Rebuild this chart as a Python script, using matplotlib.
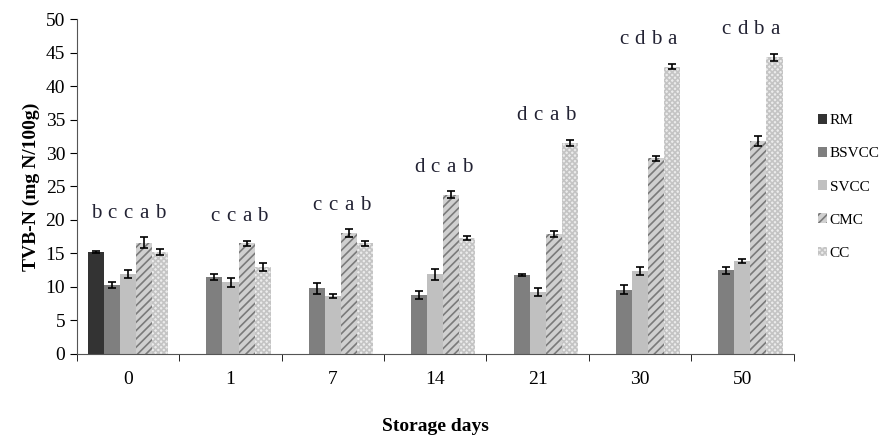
import numpy as np
from matplotlib import pyplot as plt

days = ['0', '1', '7', '14', '21', '30', '50']
series = ['RM', 'BSVCC', 'SVCC', 'CMC', 'CC']
rm     = [15.2, np.nan, np.nan, np.nan, np.nan, np.nan, np.nan]
bsvcc  = [10.3, 11.5, 9.8, 8.8, 11.8, 9.6, 12.5]
svcc   = [12.0, 10.7, 8.6, 11.9, 9.2, 12.4, 13.9]
cmc    = [16.6, 16.5, 18.0, 23.8, 17.9, 29.2, 31.8]
cc     = [15.2, 13.0, 16.5, 17.3, 31.5, 42.9, 44.3]
rm_err    = [0.2, 0, 0, 0, 0, 0, 0]
bsvcc_err = [0.4, 0.5, 0.8, 0.6, 0.2, 0.7, 0.5]
svcc_err  = [0.6, 0.7, 0.3, 0.8, 0.6, 0.6, 0.3]
cmc_err   = [0.8, 0.4, 0.6, 0.5, 0.4, 0.4, 0.8]
cc_err    = [0.4, 0.6, 0.4, 0.3, 0.5, 0.4, 0.5]
letters = [['b', 'c', 'c', 'a', 'b'],
           ['', 'c', 'c', 'a', 'b'],
           ['', 'c', 'c', 'a', 'b'],
           ['', 'd', 'c', 'a', 'b'],
           ['', 'd', 'c', 'a', 'b'],
           ['', 'c', 'd', 'b', 'a'],
           ['', 'c', 'd', 'b', 'a']]

plt.rcParams['font.family'] = ['Liberation Serif', 'DejaVu Serif']
plt.rcParams['hatch.linewidth'] = 1.2

fig = plt.figure(figsize=(8.89, 4.44), dpi=100)
ax = fig.add_axes([0.0866, 0.203, 0.806, 0.754])

values = [rm, bsvcc, svcc, cmc, cc]
errs = [rm_err, bsvcc_err, svcc_err, cmc_err, cc_err]
styles = [dict(color='#333333', hatch=None, ec='white'),
          dict(color='#7f7f7f', hatch=None, ec='white'),
          dict(color='#c0c0c0', hatch=None, ec='white'),
          dict(color='#d0d0d0', hatch='////', ec='#7a7a7a'),
          dict(color='#ececec', hatch='xxxxxx', ec='#c4c4c4')]
w = 0.157
x = np.arange(len(days))
for i, (vals, er, st) in enumerate(zip(values, errs, styles)):
    pos = x + (i - 2) * w
    ax.bar(pos, vals, w, color=st['color'], hatch=st['hatch'], edgecolor=st['ec'],
           linewidth=0, label=series[i])
    ax.errorbar(pos, vals, yerr=er, fmt='none', ecolor='black', elinewidth=1.2,
                capsize=3, capthick=1.2)

# significance letters above each bar
for g in range(len(days)):
    tops = [values[i][g] + errs[i][g] for i in range(5) if not np.isnan(values[i][g])]
    ly = max(tops) + 3.6
    for i in range(5):
        if letters[g][i]:
            ax.text(x[g] + (i - 2) * w, ly, letters[g][i], ha='center', va='center',
                    fontsize=15, color='#222233')

ax.set_xlim(-0.5, 6.5)
ax.set_ylim(0, 50)
ax.set_yticks(range(0, 51, 5))
ax.set_xticks(x)
ax.set_xticklabels(days)
ax.set_xticks(np.arange(-0.5, 7, 1), minor=True)
ax.tick_params(axis='x', which='major', length=0, pad=12, labelsize=14)
ax.tick_params(axis='x', which='minor', length=5, direction='out')
ax.tick_params(axis='y', length=5, direction='out', labelsize=14)
for s in ['top', 'right']:
    ax.spines[s].set_visible(False)
ax.spines['left'].set_color('#555555')
ax.spines['bottom'].set_color('#555555')

ax.set_ylabel('TVB-N (mg N/100g)', fontsize=14, fontweight='bold')
ax.set_xlabel('Storage days', fontsize=14, fontweight='bold', labelpad=22)

fig.legend(loc='center left', bbox_to_anchor=(0.905, 0.579), frameon=False,
           handlelength=0.6, handleheight=0.6, handletextpad=0.15,
           labelspacing=1.3, fontsize=11)

plt.savefig('out.png', dpi=100)
